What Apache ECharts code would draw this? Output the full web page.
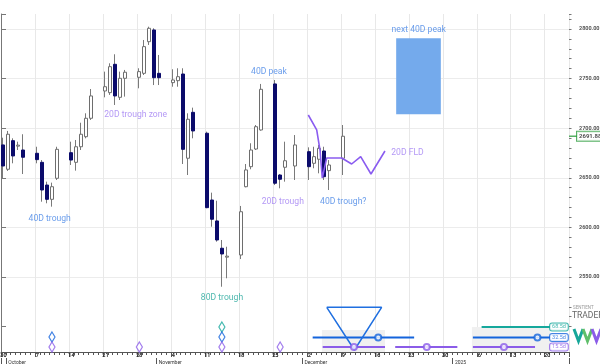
<!DOCTYPE html>
<html><head><meta charset="utf-8">
<script src="https://cdn.jsdelivr.net/npm/echarts@6/dist/echarts.min.js"></script>
<style>html,body{margin:0;padding:0;background:#fff}#c{width:600px;height:364px}</style>
</head><body><div id="c"></div>
<script>
// ---------------- DATA ----------------
const startDate = [2024, 8, 30];   // 30 Sep 2024 (calendar axis start)
const dayCount = 117;              // calendar days shown

const tradeDates = ['2024-09-30','2024-10-01','2024-10-02','2024-10-03','2024-10-04',
 '2024-10-07','2024-10-08','2024-10-09','2024-10-10','2024-10-11',
 '2024-10-14','2024-10-15','2024-10-16','2024-10-17','2024-10-18',
 '2024-10-21','2024-10-22','2024-10-23','2024-10-24','2024-10-25',
 '2024-10-28','2024-10-29','2024-10-30','2024-10-31','2024-11-01',
 '2024-11-04','2024-11-05','2024-11-06','2024-11-07','2024-11-08',
 '2024-11-11','2024-11-12','2024-11-13','2024-11-14','2024-11-15',
 '2024-11-18','2024-11-19','2024-11-20','2024-11-21','2024-11-22',
 '2024-11-25','2024-11-26','2024-11-27','2024-11-29',
 '2024-12-02','2024-12-03','2024-12-04','2024-12-05','2024-12-06',
 '2024-12-09'];
const openP = [2683.1,2658.6,2687.4,2682.4,2678.0, 2674.7,2665.6,2642.7,2628.3,2649.5,
 2675.3,2665.6,2681.3,2691.4,2710.0, 2737.5,2735.8,2764.4,2731.1,2750.3,
 2751.3,2755.3,2787.2,2799.0,2755.3, 2745.9,2747.9,2754.6,2669.7,2716.0,
 2694.9,2627.6,2606.5,2579.0,2570.5, 2572.2,2641.0,2661.2,2679.0,2698.2,
 2744.6,2652.8,2660.6,2661.9, 2676.3,2664.6,2668.7,2677.0,2657.2, 2669.7];
const closeP = [2661.9,2693.9,2672.0,2682.4,2670.7, 2668.3,2637.7,2628.3,2641.0,2678.7,
 2667.9,2681.3,2693.9,2710.0,2732.5, 2741.8,2762.0,2732.5,2750.3,2756.4,
 2757.0,2782.2,2800.7,2750.9,2750.9, 2748.6,2751.9,2678.7,2709.0,2697.2,
 2619.9,2608.2,2587.3,2573.2,2570.5, 2615.8,2657.9,2678.0,2701.5,2739.2,
 2644.5,2648.5,2667.2,2683.1, 2661.2,2671.3,2679.7,2651.1,2662.9, 2691.88];
const lowP = [2648.8,2656.9,2664.6,2678.0,2653.8, 2664.6,2625.9,2624.3,2620.9,2647.8,
 2662.9,2657.2,2678.0,2689.8,2708.3, 2731.1,2733.5,2723.4,2728.4,2731.8,
 2740.2,2753.6,2783.9,2743.5,2743.5, 2741.8,2741.8,2663.9,2652.8,2689.8,
 2619.3,2600.7,2585.6,2540.2,2548.7, 2568.1,2640.4,2658.6,2678.0,2697.5,
 2642.7,2639.4,2646.1,2647.8, 2647.8,2659.6,2654.5,2647.8,2637.7, 2652.8];
const highP = [2690.4,2697.2,2689.8,2686.4,2693.9, 2681.3,2667.9,2646.1,2645.1,2681.3,
 2686.4,2688.1,2705.5,2715.0,2739.5, 2757.0,2765.4,2774.5,2757.0,2758.7,
 2760.4,2788.9,2802.3,2800.7,2773.8, 2759.4,2760.4,2760.4,2715.0,2720.7,
 2696.5,2635.0,2626.9,2587.3,2580.5, 2621.6,2663.9,2684.8,2703.2,2744.6,
 2748.6,2653.8,2686.4,2693.1, 2680.7,2681.3,2683.1,2681.3,2667.9, 2703.2];

// 20D FLD projection (calendar-day position, price)
const fldDay   = [63.30, 65.03, 65.71, 66.18, 67.09, 70.18, 72.23, 74.09, 76.21, 79.09];
const fldPrice = [2713.3, 2698.2, 2678.0, 2649.8, 2670.0, 2670.0, 2663.9, 2671.3, 2653.8, 2677.0];

// next 40D peak zone [dayFrom, dayTo, priceLow, priceHigh]
const peakZone = [81.4, 90.6, 2714.0, 2790.6];

// annotations: text, day, price, cycle
const noteText  = ['40D trough','20D trough zone','40D peak','20D trough','40D trough?','80D trough','20D FLD','next 40D peak'];
const noteDay   = [10.03, 27.74, 55.2, 58.04, 70.5, 45.52, 83.73, 86.06];
const notePrice = [2608.2, 2713.3, 2757.0, 2625.3, 2625.3, 2528.8, 2674.7, 2799.0];
const noteCycle = [40, 20, 40, 20, 40, 80, 20, 40];

// price axis ticks
const priceMin = 2500, priceMax = 2815.1, priceStep = 50, priceMinorStep = 10, firstPriceLabel = 2550;

// cycle panel (lengths in trading days, projected ranges in calendar days)
const cycleLen   = [68.5, 32.5, 15.5];
const cycleLevel = [25, 14.5, 5];
const cycleSegs  = [ [[99.0,113.1]], [[64.2,85.1],[97.2,113.1]], [[66.26,79.1],[81.2,94.0],[97.2,110.0]] ];
const cycleMid   = [ [], [77.7, 110.5], [72.7, 87.7, 103.6] ];
const cycleDiamonds = [ [45.5], [10.5, 45.5], [10.5, 28.5, 45.5, 57.5] ];
const cycleShade = [[66.1, 79.1, 0, 22], [97.0, 113.1, 0, 25]];
const vTriangle  = [[67.1, 44.7], [78.4, 44.7], [72.8, 2], [67.1, 44.7]];
const tagDay = 114.93;

// ---------------- BUILD ----------------
const categories = [];
const t0 = Date.UTC(startDate[0], startDate[1], startDate[2]);
for (let i = 0; i < dayCount; i++) categories.push(new Date(t0 + i * 86400000).toISOString().slice(0, 10));
const candleData = tradeDates.map((d, i) => [categories.indexOf(d), openP[i], closeP[i], lowP[i], highP[i]]);

const mondayInterval = (i) => i % 7 === 0;
const monthInterval = (i, v) => i === 0 || String(v).slice(8) === '01';
const monthNames = {'10': 'October', '11': 'November', '12': 'December', '01': '2025'};
const isMult = (v, s) => Math.abs(v / s - Math.round(v / s)) < 1e-6;
const dayLabel = (v) => String(parseInt(String(v).slice(8), 10));

const cycleColor = {20: '#a07ef2', 40: '#4585e6', 80: '#22a69a'};
const panelColors = ['#16a89c', '#1464dc', '#8b5ce8'];
const FONT = 'Roboto, "Liberation Sans", sans-serif';

const series = [];

// candles
series.push({
  type: 'custom', xAxisIndex: 0, yAxisIndex: 0, z: 3,
  encode: {x: 0, y: [1, 2, 3, 4]},
  data: candleData,
  renderItem: function (params, api) {
    const idx = api.value(0), o = api.value(1), c = api.value(2), l = api.value(3), h = api.value(4);
    const pO = api.coord([idx, o]), pC = api.coord([idx, c]);
    const pL = api.coord([idx, l]), pH = api.coord([idx, h]);
    const cx = Math.round(pO[0]);
    const up = c >= o;
    let top = Math.min(pO[1], pC[1]), bot = Math.max(pO[1], pC[1]);
    if (bot - top < 1) { const m = (top + bot) / 2; top = m - 0.5; bot = m + 0.5; }
    const bodyCol = up ? '#ffffff' : '#0b0b6b';
    const edgeCol = up ? '#6e6e6e' : '#0b0b6b';
    return {type: 'group', children: [
      {type: 'line', shape: {x1: cx - 0.5, y1: pH[1], x2: cx - 0.5, y2: pL[1]}, style: {stroke: '#7a7a7a', lineWidth: 1}},
      {type: 'rect', shape: {x: cx - 1.5, y: top, width: 3, height: bot - top}, style: {fill: bodyCol, stroke: edgeCol, lineWidth: 1}}
    ]};
  }
});

// next 40D peak zone
series.push({
  type: 'custom', xAxisIndex: 1, yAxisIndex: 0, z: 2,
  data: [peakZone],
  renderItem: function (params, api) {
    const a = api.coord([api.value(0), api.value(3)]);
    const b = api.coord([api.value(1), api.value(2)]);
    return {type: 'rect', shape: {x: a[0], y: a[1], width: b[0] - a[0], height: b[1] - a[1]}, style: {fill: '#74aaec'}};
  }
});

// FLD line
series.push({
  type: 'line', xAxisIndex: 1, yAxisIndex: 0, z: 5, symbol: 'none',
  data: fldDay.map((d, i) => [d, fldPrice[i]]),
  lineStyle: {color: '#8a5cf0', width: 1.6}
});

// annotations
series.push({
  type: 'scatter', xAxisIndex: 1, yAxisIndex: 0, z: 6, symbolSize: 0, silent: true,
  data: noteText.map((t, i) => ({
    value: [noteDay[i], notePrice[i]], name: t,
    label: {color: cycleColor[noteCycle[i]]}
  })),
  label: {show: true, position: 'inside', formatter: p => p.name, fontSize: 8.6, fontFamily: FONT}
});

// current price tag
const lastClose = closeP[closeP.length - 1];
series.push({
  type: 'scatter', xAxisIndex: 1, yAxisIndex: 0, z: 10, clip: false, silent: true,
  symbol: 'rect', symbolSize: [8, 1.5], symbolOffset: [4, 0],
  itemStyle: {color: '#2e9e3e'},
  data: [[dayCount, lastClose]],
  label: {show: true, position: 'right', distance: 0, formatter: p => p.value[1].toFixed(2),
    fontSize: 6, fontWeight: 'bold', color: '#222', backgroundColor: '#fff',
    borderColor: '#2e9e3e', borderWidth: 1, padding: [2, 2, 1, 2], fontFamily: FONT}
});

// bottom panel shading
series.push({
  type: 'custom', xAxisIndex: 5, yAxisIndex: 2, z: 1,
  data: cycleShade,
  renderItem: function (params, api) {
    const a = api.coord([api.value(0), api.value(3)]);
    const b = api.coord([api.value(1), api.value(2)]);
    return {type: 'rect', shape: {x: a[0], y: a[1], width: b[0] - a[0], height: b[1] - a[1]}, style: {fill: '#f0f0f0'}};
  }
});

// cycle projection lines
cycleSegs.forEach((segs, ci) => {
  segs.forEach(s => {
    series.push({
      type: 'line', xAxisIndex: 5, yAxisIndex: 2, z: 3, symbol: 'none', silent: true,
      data: [[s[0], cycleLevel[ci]], [s[1], cycleLevel[ci]]],
      lineStyle: {color: panelColors[ci], width: 2}
    });
  });
});

// inverted triangle
series.push({
  type: 'line', xAxisIndex: 5, yAxisIndex: 2, z: 4, symbol: 'none', silent: true,
  data: vTriangle, lineStyle: {color: '#1f6fe0', width: 1.5}
});

// cycle midpoint circles
cycleMid.forEach((mids, ci) => {
  if (!mids.length) return;
  series.push({
    type: 'scatter', xAxisIndex: 5, yAxisIndex: 2, z: 5, symbol: 'circle', symbolSize: 6, silent: true,
    itemStyle: {color: '#fff', borderColor: panelColors[ci], borderWidth: 2},
    data: mids.map(m => [m, cycleLevel[ci]])
  });
});

// diamonds (past troughs)
const diamondLevel = [25, 15, 5];
cycleDiamonds.forEach((ds, ci) => {
  series.push({
    type: 'scatter', xAxisIndex: 5, yAxisIndex: 2, z: 5, symbol: 'diamond', symbolSize: [6, 10], silent: true, clip: false,
    itemStyle: {color: '#fff', borderColor: panelColors[ci], borderWidth: 1.3},
    data: ds.map(d => [d, diamondLevel[ci]])
  });
});

// cycle length tags
series.push({
  type: 'scatter', xAxisIndex: 5, yAxisIndex: 2, z: 8, symbolSize: 0, silent: true, clip: false,
  data: cycleLen.map((v, ci) => ({value: [tagDay, cycleLevel[ci]], name: v.toFixed(1) + 'd',
    label: {color: panelColors[ci], borderColor: panelColors[ci]}})),
  label: {show: true, position: 'inside', formatter: p => p.name, fontSize: 5.5, fontFamily: FONT,
    backgroundColor: '#fff', borderWidth: 1, borderRadius: 2, padding: [1, 2, 0, 2]}
});

const dayAxisLabel = {show: true, interval: mondayInterval, formatter: dayLabel,
  fontSize: 5.5, color: '#333', margin: 1, hideOverlap: false, showMinLabel: true, showMaxLabel: true};

const option = {
  animation: false,
  backgroundColor: '#ffffff',
  textStyle: {fontFamily: FONT},
  grid: [
    {left: 1, right: 31, top: 14, bottom: 37.4, containLabel: false, outerBoundsMode: 'none'},
    {left: 1, right: 31, top: 300, bottom: 12, containLabel: false, outerBoundsMode: 'none'}
  ],
  xAxis: [
    {type: 'category', gridIndex: 0, data: categories, boundaryGap: true, position: 'bottom',
     axisLine: {show: false}, axisTick: {show: false}, axisLabel: {show: false},
     splitLine: {show: true, interval: mondayInterval, lineStyle: {color: '#e8e8e8', width: 1}}},
    {type: 'value', gridIndex: 0, min: 0, max: dayCount, show: false},
    {type: 'category', gridIndex: 1, data: categories, boundaryGap: true, position: 'bottom',
     axisLine: {show: true, lineStyle: {color: '#555', width: 1}},
     axisTick: {show: true, interval: 0, length: 3, lineStyle: {color: '#555'}},
     axisLabel: dayAxisLabel,
     splitLine: {show: true, interval: mondayInterval, lineStyle: {color: '#e8e8e8', width: 1}}},
    {type: 'category', gridIndex: 1, data: categories, boundaryGap: true, position: 'bottom',
     axisLine: {show: false}, axisTick: {show: true, interval: mondayInterval, length: 5, lineStyle: {color: '#555'}},
     axisLabel: dayAxisLabel, splitLine: {show: false}},
    {type: 'category', gridIndex: 1, data: categories, boundaryGap: true, position: 'bottom', offset: 6,
     axisLine: {show: false}, axisTick: {show: true, interval: monthInterval, length: 6, lineStyle: {color: '#555'}},
     axisLabel: {show: true, interval: monthInterval, align: 'left', fontSize: 5, color: '#333', margin: 2,
       formatter: (v, i) => i === 0 ? 'October' : monthNames[String(v).slice(5, 7)]},
     splitLine: {show: false}},
    {type: 'value', gridIndex: 1, min: 0, max: dayCount, show: false}
  ],
  yAxis: [
    {type: 'value', gridIndex: 0, position: 'right', min: priceMin, max: priceMax, interval: priceStep,
     axisLine: {show: true, lineStyle: {color: '#777'}},
     axisTick: {show: true, length: 5, lineStyle: {color: '#777'}},
     axisLabel: {show: true, margin: 10, fontSize: 5.5, fontWeight: 'bold', color: '#555',
       formatter: v => (v >= firstPriceLabel && isMult(v, priceStep)) ? v.toFixed(2) : ''},
     splitLine: {show: true, showMinLine: false, showMaxLine: false, lineStyle: {color: '#ececec'}}},
    {type: 'value', gridIndex: 0, position: 'right', min: priceMin, max: priceMax, interval: priceMinorStep,
     axisLine: {show: false}, axisTick: {show: true, length: 2.5, lineStyle: {color: '#777'}},
     axisLabel: {show: false}, splitLine: {show: false}},
    {type: 'value', gridIndex: 1, position: 'right', min: 0, max: 52,
     axisLine: {show: true, lineStyle: {color: '#777'}}, axisTick: {show: false},
     axisLabel: {show: false}, splitLine: {show: false}}
  ],
  graphic: [
    {type: 'text', left: 573, top: 305, style: {text: 'SENTIENT', fontSize: 4.5, fill: '#9a9a9a', fontFamily: FONT}},
    {type: 'text', left: 572, top: 311, style: {text: 'TRADER', fontSize: 8.5, fill: '#666', fontFamily: FONT}},
    {type: 'polyline', shape: {points: [[574, 329], [578.5, 341], [583, 329]]}, style: {stroke: '#17a79a', lineWidth: 3, fill: null}},
    {type: 'polyline', shape: {points: [[583, 329], [587.5, 341], [592, 329]]}, style: {stroke: '#5fbf6a', lineWidth: 3, fill: null}},
    {type: 'polyline', shape: {points: [[592, 329], [596.5, 341], [601, 329]]}, style: {stroke: '#8b5ce8', lineWidth: 3, fill: null}}
  ],
  series: series
};

const chart = echarts.init(document.getElementById('c'), null, {renderer: 'canvas', width: 600, height: 364});
chart.setOption(option);
</script>
</body></html>
